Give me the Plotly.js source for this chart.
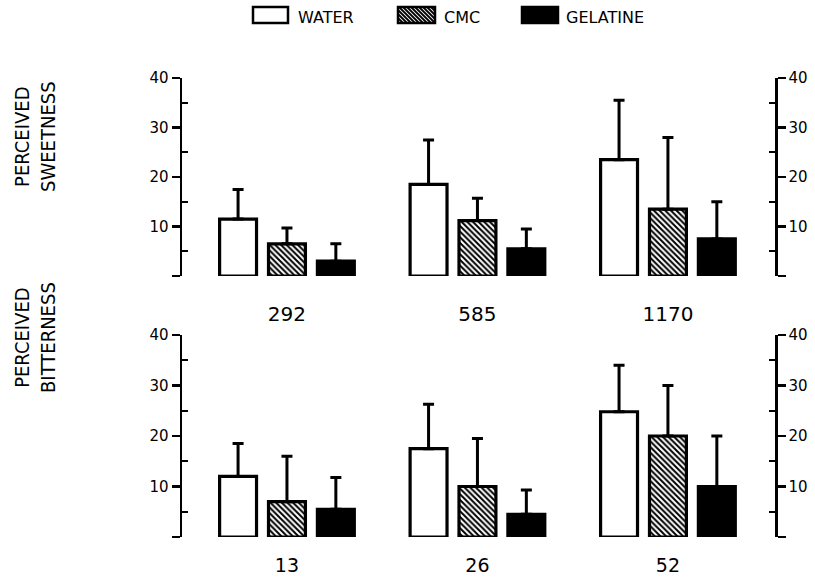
<!DOCTYPE html>
<html>
<head>
<meta charset="utf-8">
<script src="https://cdn.plot.ly/plotly-3.0.1.min.js"></script>
<style>html,body{margin:0;padding:0;background:#fff;}#chart{width:815px;height:581px;}</style>
</head>
<body>
<div id="chart"></div>
<script>
// ---- data ----
const sweetDoses = ["292", "585", "1170"];
const bitterDoses = ["13", "26", "52"];
const seriesNames = ["WATER", "CMC", "GELATINE"];

const sweetWater = [11.5, 18.5, 23.5];
const sweetWaterSD = [6.0, 9.0, 12.0];
const sweetCMC = [6.5, 11.2, 13.5];
const sweetCMCSD = [3.2, 4.5, 14.5];
const sweetGel = [3.0, 5.5, 7.5];
const sweetGelSD = [3.5, 4.0, 7.5];

const bitterWater = [12.0, 17.5, 24.8];
const bitterWaterSD = [6.5, 8.8, 9.2];
const bitterCMC = [7.0, 10.0, 20.0];
const bitterCMCSD = [9.0, 9.5, 10.0];
const bitterGel = [5.5, 4.5, 10.0];
const bitterGelSD = [6.3, 4.8, 10.0];

const yTickVals = [0, 10, 20, 30, 40];
const yTickText = ["", "10", "20", "30", "40"];

// ---- styles ----
const W = 815, H = 581;
const styles = [
  {color: "white"},
  {color: "white", pattern: {shape: "\\", fgcolor: "black", bgcolor: "white", size: 4, solidity: 0.5}},
  {color: "black"}
];

function barTrace(x, y, sd, s, xa, ya, name) {
  const m = {color: styles[s].color, line: {color: "black", width: 3.2}};
  if (styles[s].pattern) m.pattern = styles[s].pattern;
  return {
    type: "bar", x: x, y: y, name: name, xaxis: xa, yaxis: ya, marker: m,
    showlegend: false, hoverinfo: "skip",
    error_y: {type: "data", symmetric: false, array: sd, arrayminus: sd.map(() => 0),
              color: "black", thickness: 3, width: 5.5}
  };
}

const traces = [
  barTrace(sweetDoses, sweetWater, sweetWaterSD, 0, "x", "y", seriesNames[0]),
  barTrace(sweetDoses, sweetCMC, sweetCMCSD, 1, "x", "y", seriesNames[1]),
  barTrace(sweetDoses, sweetGel, sweetGelSD, 2, "x", "y", seriesNames[2]),
  barTrace(bitterDoses, bitterWater, bitterWaterSD, 0, "x2", "y3", seriesNames[0]),
  barTrace(bitterDoses, bitterCMC, bitterCMCSD, 1, "x2", "y3", seriesNames[1]),
  barTrace(bitterDoses, bitterGel, bitterGelSD, 2, "x2", "y3", seriesNames[2]),
  // carriers for right-hand axes
  {type: "scatter", mode: "markers", x: sweetDoses, y: [null, null, null], xaxis: "x", yaxis: "y2", showlegend: false, hoverinfo: "skip"},
  {type: "scatter", mode: "markers", x: bitterDoses, y: [null, null, null], xaxis: "x2", yaxis: "y4", showlegend: false, hoverinfo: "skip"}
];

const px = v => v / W;
const py = v => 1 - v / H;

const xDom = [px(182), px(775)];
const topDom = [py(276), py(78)];
const botDom = [py(537), py(335)];

const tickFont = {family: "DejaVu Sans, sans-serif", size: 15, color: "black"};
function yAx(dom, side, anchor, overlay) {
  const a = {
    domain: dom, range: [0, 40], autorange: false, fixedrange: true,
    tickmode: "array", tickvals: yTickVals, ticktext: yTickText,
    ticks: "outside", ticklen: 8, tickwidth: 2.5, tickcolor: "black",
    showline: true, linewidth: 2.5, linecolor: "black",
    showgrid: false, zeroline: false, tickfont: tickFont,
    minor: {tickvals: [5, 15, 25, 35], ticks: "inside", ticklen: 6, tickwidth: 2, tickcolor: "black", showgrid: false},
    side: side, anchor: anchor
  };
  if (overlay) a.overlaying = overlay;
  return a;
}
function xAx(dom, anchor, standoff, size) {
  return {
    domain: dom, type: "category", range: [-0.551, 2.562], autorange: false, fixedrange: true,
    showline: false, ticks: "", showgrid: false, zeroline: false, anchor: anchor,
    tickfont: {family: "DejaVu Sans, sans-serif", size: size, color: "black"},
    ticklabelstandoff: standoff
  };
}

// ---- custom legend (shapes + text) ----
const shapes = [];
const annotations = [];
const legendBoxes = [[253, 288], [398, 435], [522, 558]];
const legendText = [296, 442, 564];
const ly0 = 7, ly1 = 23;
legendBoxes.forEach((b, i) => {
  shapes.push({type: "rect", xref: "paper", yref: "paper", x0: px(b[0]), x1: px(b[1]), y0: py(ly1), y1: py(ly0),
    fillcolor: i === 2 ? "black" : "white", line: {color: "black", width: 2.5}});
  if (i === 1) {
    // diagonal hatching inside the box
    let d = "";
    const x0 = b[0], x1 = b[1];
    for (let c = ly0 - x1; c <= ly1 - x0; c += 4) {
      let xa = Math.max(x0, ly0 - c), xb = Math.min(x1, ly1 - c);
      if (xb - xa < 0.5) continue;
      d += `M${px(xa)},${py(xa + c)}L${px(xb)},${py(xb + c)}`;
    }
    shapes.push({type: "path", xref: "paper", yref: "paper", path: d, line: {color: "black", width: 1.8}});
  }
  annotations.push({xref: "paper", yref: "paper", x: px(legendText[i]), y: py(17), xanchor: "left", yanchor: "middle",
    text: seriesNames[i], showarrow: false, font: {family: "DejaVu Sans, sans-serif", size: 16, color: "black"}});
});

const labFont = {family: "Liberation Sans Narrow, DejaVu Sans Condensed, sans-serif", size: 20, color: "black"};
annotations.push({xref: "paper", yref: "paper", x: px(35), y: py(137), xanchor: "center", yanchor: "middle",
  text: "PERCEIVED<br>SWEETNESS", textangle: -90, showarrow: false, font: labFont});
annotations.push({xref: "paper", yref: "paper", x: px(35), y: py(338), xanchor: "center", yanchor: "middle",
  text: "PERCEIVED<br>BITTERNESS", textangle: -90, showarrow: false, font: labFont});

const layout = {
  width: W, height: H, margin: {l: 0, r: 0, t: 0, b: 0},
  paper_bgcolor: "white", plot_bgcolor: "rgba(0,0,0,0)",
  showlegend: false, barmode: "group", bargap: 0.23, bargroupgap: 0.245,
  xaxis: xAx(xDom, "y", 24, 20),
  xaxis2: xAx(xDom, "y3", 15, 19),
  yaxis: yAx(topDom, "left", "x"),
  yaxis2: yAx(topDom, "right", "x", "y"),
  yaxis3: yAx(botDom, "left", "x2"),
  yaxis4: yAx(botDom, "right", "x2", "y3"),
  shapes: shapes, annotations: annotations
};

Plotly.newPlot("chart", traces, layout, {staticPlot: true, displayModeBar: false});
</script>
</body>
</html>
